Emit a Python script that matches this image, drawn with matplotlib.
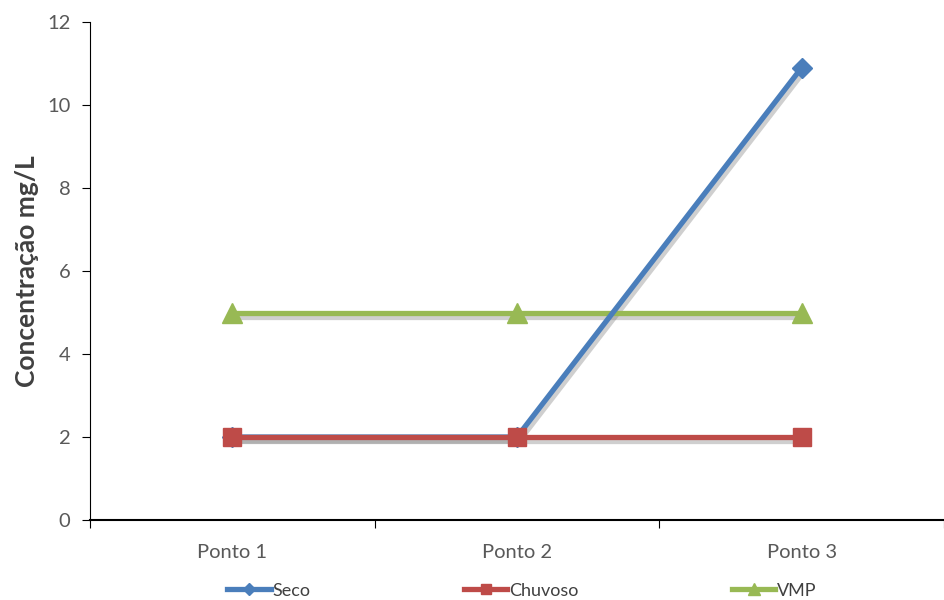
import matplotlib.pyplot as plt
import matplotlib.patheffects as pe

# data
pontos = ['Ponto 1', 'Ponto 2', 'Ponto 3']
seco = [2, 2, 10.9]
chuvoso = [2, 2, 2]
vmp = [5, 5, 5]

plt.rcParams['font.family'] = ['Lato', 'DejaVu Sans']

fig = plt.figure(figsize=(9.44, 6), dpi=100)
ax = fig.add_axes([90 / 944, 80 / 600, 854 / 944, 498 / 600])

x = [0.5, 1.5, 2.5]
series = [
    (seco, '#4A7EBB', 'D', 10, 'Seco', 3),
    (chuvoso, '#BE4B48', 's', 13, 'Chuvoso', 4),
    (vmp, '#98B954', '^', 14, 'VMP', 2),
]
for vals, col, mk, ms, lab, z in series:
    # soft shadow under the line only
    ax.plot(x, vals, color=col, lw=3.8, zorder=1,
            path_effects=[pe.SimpleLineShadow(offset=(1.5, -3), shadow_color='#777777', alpha=0.35)])
    ax.plot(x, vals, color=col, lw=3.8, marker=mk, ms=ms, label=lab, zorder=z)

ax.set_xlim(0, 854 / 288.5)
ax.set_ylim(0, 12)
ax.set_yticks(range(0, 13, 2))
ax.set_xticks([0, 1, 2, 3])
ax.set_xticklabels([])
ax.set_xticks(x, minor=True)
ax.set_xticklabels(pontos, minor=True)
ax.tick_params(axis='x', which='minor', length=0, pad=17, labelsize=14.5, labelcolor='#595959')
ax.tick_params(axis='x', which='major', length=6, direction='out', color='black')
ax.tick_params(axis='y', length=6, direction='out', labelsize=14.5, labelcolor='#595959', pad=8)

for s in ['top', 'right']:
    ax.spines[s].set_visible(False)
ax.spines['bottom'].set_linewidth(1.5)

ax.set_ylabel('Concentração mg/L', fontsize=19, fontweight='bold', color='#404040', labelpad=6)

fig.legend(loc='lower center', bbox_to_anchor=(0.553, -0.025), ncol=3, frameon=False,
           fontsize=13, columnspacing=8.5, handlelength=2.4, handletextpad=0.1, markerscale=0.6,
           labelcolor='#404040')

fig.savefig('out.png', dpi=100)
